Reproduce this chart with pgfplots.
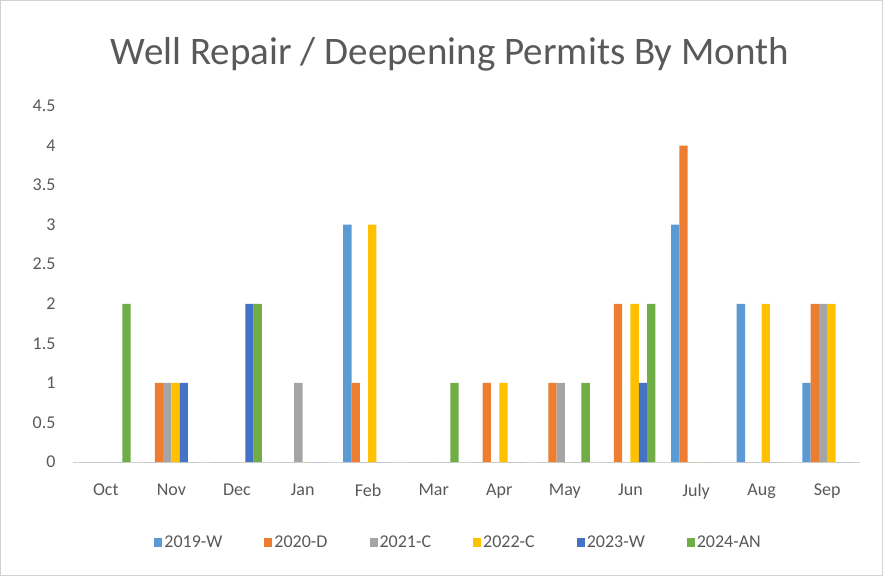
\documentclass[border=0pt]{standalone}
\usepackage{pgfplots}
\pgfplotsset{compat=1.18}
\usepackage{fontspec}
\setmainfont{Carlito}
\definecolor{cA}{HTML}{5B9BD5}
\definecolor{cB}{HTML}{ED7D31}
\definecolor{cC}{HTML}{A5A5A5}
\definecolor{cD}{HTML}{FFC000}
\definecolor{cE}{HTML}{4472C4}
\definecolor{cF}{HTML}{70AD47}
\definecolor{txt}{HTML}{595959}
\begin{document}
\begin{tikzpicture}
\draw[draw=black!18, line width=1pt] (0.5pt,0.5pt) rectangle (882.5pt,575.5pt);
\node[text=txt, font=\fontsize{39}{44}\selectfont] at (450pt,522pt) {Well Repair / Deepening Permits By Month};
\begin{axis}[
  at={(73pt,114pt)}, anchor=south west,
  scale only axis, width=787pt, height=356pt,
  ybar=0pt, bar width=8.3pt,
  xmin=-0.5, xmax=11.5, ymin=0, ymax=4.5,
  xtick={0,...,11},
  xticklabels={Oct,Nov,Dec,Jan,Feb,Mar,Apr,May,Jun,July,Aug,Sep},
  ytick={0,0.5,...,4.5},
  /pgf/number format/assume math mode=true,
  /pgf/number format/.cd, fixed, precision=1, /pgfplots/.cd,
  ticklabel style={text=txt, font=\fontsize{18}{21}\selectfont},
  xticklabel style={yshift=-18pt},
  yticklabel style={xshift=-14pt},
  major tick length=0pt,
  axis x line*=bottom, axis y line*=left,
  x axis line style={draw=black!18, line width=1pt},
  y axis line style={draw=none},
  legend style={at={(0.49,-0.225)}, anchor=center, draw=none,
    legend columns=6, font=\fontsize{18}{21}\selectfont, text=txt,
    /tikz/every even column/.append style={column sep=40pt}},
  legend image code/.code={\fill[#1] (0pt,-4.5pt) rectangle (8pt,4.5pt);},
  clip=false,
]
\addplot[fill=cA, draw=none] coordinates {(0,0) (1,0) (2,0) (3,0) (4,3) (5,0) (6,0) (7,0) (8,0) (9,3) (10,2) (11,1)};
\addplot[fill=cB, draw=none] coordinates {(0,0) (1,1) (2,0) (3,0) (4,1) (5,0) (6,1) (7,1) (8,2) (9,4) (10,0) (11,2)};
\addplot[fill=cC, draw=none] coordinates {(0,0) (1,1) (2,0) (3,1) (4,0) (5,0) (6,0) (7,1) (8,0) (9,0) (10,0) (11,2)};
\addplot[fill=cD, draw=none] coordinates {(0,0) (1,1) (2,0) (3,0) (4,3) (5,0) (6,1) (7,0) (8,2) (9,0) (10,2) (11,2)};
\addplot[fill=cE, draw=none] coordinates {(0,0) (1,1) (2,2) (3,0) (4,0) (5,0) (6,0) (7,0) (8,1) (9,0) (10,0) (11,0)};
\addplot[fill=cF, draw=none] coordinates {(0,2) (1,0) (2,2) (3,0) (4,0) (5,1) (6,0) (7,1) (8,2) (9,0) (10,0) (11,0)};
\legend{2019-W,2020-D,2021-C,2022-C,2023-W,2024-AN}
\end{axis}
\end{tikzpicture}
\end{document}
